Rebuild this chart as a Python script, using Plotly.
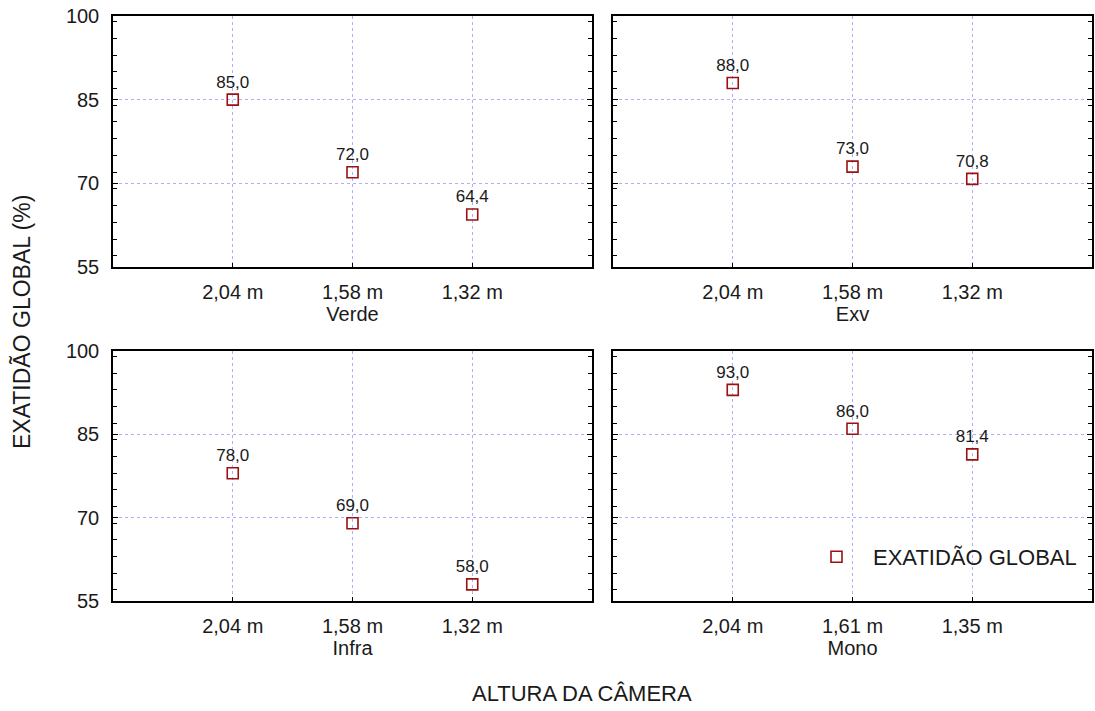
import plotly.graph_objects as go

# Overall accuracy by camera height, one panel per image band
panels = ["Verde", "Exv", "Infra", "Mono"]
heights_verde = ["2,04 m", "1,58 m", "1,32 m"]
heights_exv = ["2,04 m", "1,58 m", "1,32 m"]
heights_infra = ["2,04 m", "1,58 m", "1,32 m"]
heights_mono = ["2,04 m", "1,61 m", "1,35 m"]
acc_verde = [85.0, 72.0, 64.4]
acc_exv = [88.0, 73.0, 70.8]
acc_infra = [78.0, 69.0, 58.0]
acc_mono = [93.0, 86.0, 81.4]

y_ticks = [55, 70, 85, 100]
series_name = "EXATIDÃO GLOBAL"
y_title = "EXATIDÃO GLOBAL (%)"
x_title = "ALTURA DA CÂMERA"

W, H = 1095, 711
FONT = "Liberation Sans, Arial, sans-serif"
MARK = "#9b1111"
GRID = "#aeaeff"
INK = "#1a1a1a"

data = [
    (heights_verde, acc_verde),
    (heights_exv, acc_exv),
    (heights_infra, acc_infra),
    (heights_mono, acc_mono),
]

# panel rectangles in pixels: (left, right, top, bottom)
boxes = [
    (113, 592, 16, 267),
    (613, 1092, 16, 267),
    (113, 592, 351, 601),
    (613, 1092, 351, 601),
]

fig = go.Figure()
layout = {}
for i, ((cats, vals), (l, r, t, b), name) in enumerate(zip(data, boxes, panels)):
    n = "" if i == 0 else str(i + 1)
    fig.add_trace(go.Scatter(
        x=cats, y=vals,
        mode="markers+text",
        text=[f"{v:.1f}".replace(".", ",") for v in vals],
        textposition="top center",
        textfont=dict(family=FONT, size=17, color=INK),
        marker=dict(symbol="square-open", size=11, color=MARK, line=dict(width=1.6, color=MARK)),
        name=series_name,
        showlegend=(i == 3),
        xaxis="x" + n, yaxis="y" + n,
        cliponaxis=False,
    ))
    left_col = i in (0, 2)
    layout["xaxis" + n] = dict(
        domain=[l / W, r / W],
        anchor="y" + n,
        type="category",
        range=[-1, 3],
        automargin=False,
        showline=True, linecolor="black", linewidth=1.5, mirror=True,
        ticks="inside", ticklen=4, tickcolor="black",
        tickfont=dict(family=FONT, size=20, color=INK),
        ticklabelstandoff=6,
        showgrid=True, gridcolor=GRID, griddash="dot", gridwidth=1,
        zeroline=False,
        title=dict(text=name, font=dict(family=FONT, size=20, color=INK), standoff=0),
    )
    layout["yaxis" + n] = dict(
        domain=[1 - b / H, 1 - t / H],
        anchor="x" + n,
        range=[55, 100],
        tickvals=y_ticks,
        automargin=False,
        showticklabels=left_col,
        showline=True, linecolor="black", linewidth=1.5, mirror="ticks",
        ticks="inside", ticklen=5, tickcolor="black",
        minor=dict(dtick=3, ticks="inside", ticklen=4, tickcolor="black", showgrid=False),
        tickfont=dict(family=FONT, size=20, color=INK),
        ticklabelstandoff=8,
        showgrid=True, gridcolor=GRID, griddash="dot", gridwidth=1,
        zeroline=False,
    )

fig.update_layout(**layout)
fig.update_layout(
    width=W, height=H,
    margin=dict(l=0, r=0, t=0, b=0, autoexpand=False),
    paper_bgcolor="white", plot_bgcolor="white",
    font=dict(family=FONT, color=INK),
    legend=dict(
        x=800 / W, y=1 - 557 / H, xanchor="left", yanchor="middle",
        bgcolor="rgba(0,0,0,0)", borderwidth=0,
        itemwidth=63,
        font=dict(family=FONT, size=22, color=INK),
    ),
    annotations=[
        dict(text=x_title, x=582 / W, y=1 - 693 / H, xref="paper", yref="paper",
             xanchor="center", yanchor="middle",
             showarrow=False, font=dict(family=FONT, size=22, color=INK)),
        dict(text=y_title, x=22 / W, y=1 - 322 / H, xref="paper", yref="paper",
             xanchor="center", yanchor="middle",
             showarrow=False, textangle=-90, font=dict(family=FONT, size=23, color=INK)),
    ],
)

fig.write_html("out.html")
